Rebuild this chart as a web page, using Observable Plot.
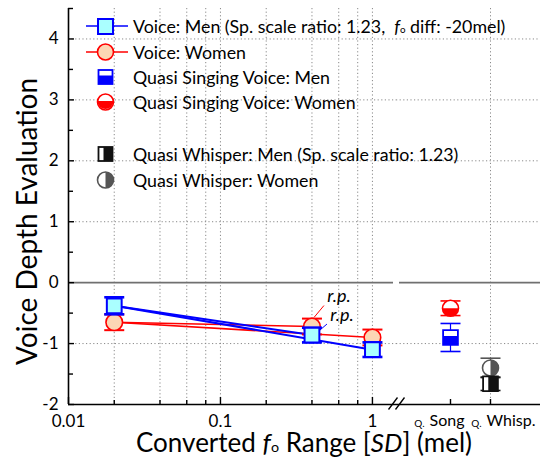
<!DOCTYPE html>
<html><head><meta charset="utf-8">
<script src="https://cdn.jsdelivr.net/npm/d3@7"></script>
<script src="https://cdn.jsdelivr.net/npm/@observablehq/plot@0.6"></script>
<style>
body{margin:0;background:#fff;font-family:Lato,"Open Sans",sans-serif;}
#wrap{position:relative;width:545px;height:465px;overflow:hidden;}
#wrap > svg{position:absolute;left:0;top:0;}
.leg{position:absolute;left:0;top:0;width:545px;height:200px;pointer-events:none;}
.row{position:absolute;left:86px;height:22px;display:flex;align-items:center;font-size:17.8px;color:#000;white-space:nowrap;}
.row svg{width:44px;height:22px;flex:none;margin-right:3px;}
.sub{font-size:0.55em;}
#xtitle{position:absolute;left:68px;width:472px;top:431px;text-align:center;font-size:26px;line-height:22px;}
</style></head><body>
<div id="wrap"></div>
<script>
// ---- data ----
const rangeSD = [0.02, 0.4, 1];            // converted f0 range [SD]
const rpFlags = [false, true, false];      // r.p. point
const menVoice = [-0.38, -0.86, -1.10];
const menVoiceErr = [0.14, 0.12, 0.12];
const womenVoice = [-0.65, -0.72, -0.90];
const womenVoiceErr = [0.13, 0.13, 0.13];
const qConditions = ["Song", "Whisp."];
const qMen = [-0.90, -1.66];
const qMenErr = [0.23, 0.11];
const qWomen = [-0.42, -1.40];
const qWomenErr = [0.12, 0.16];
const yTicks = [-2, -1, 0, 1, 2, 3, 4];
const yMinorTicks = [-1.5, -0.5, 0.5, 1.5, 2.5, 3.5, 4.5];
const xMajorTicks = [0.01, 0.1, 1];
const xMinorTicks = [0.02, 0.04, 0.06, 0.08, 0.2, 0.4, 0.6, 0.8];
const xGridTicks = [0.02, 0.04, 0.06, 0.08, 0.1, 0.2, 0.4, 0.6, 0.8, 1];
const legendItems = [
  {key: "menVoice", html: 'Voice: Men (Sp. scale ratio: 1.23,&nbsp; <i>f</i><span class="sub">o</span> diff: -20mel)'},
  {key: "womenVoice", html: 'Voice: Women'},
  {key: "qMenSong", html: 'Quasi Singing Voice: Men'},
  {key: "qWomenSong", html: 'Quasi Singing Voice: Women'},
  {key: "gap", html: ''},
  {key: "qMenWhisp", html: 'Quasi Whisper: Men (Sp. scale ratio: 1.23)'},
  {key: "qWomenWhisp", html: 'Quasi Whisper: Women'}
];

// ---- styles ----
const BLUE = "#0000ff", RED = "#ff0000", CYAN = "#aaffff", PEACH = "#fcd6b4";
const GRID = {stroke: "#8a8a8a", strokeDasharray: "1.2,2.4", strokeWidth: 1};
const R = s => Math.sqrt(s / Math.PI);
const sqSym = {draw(c, s) { const h = R(s); c.rect(-h, -h, 2 * h, 2 * h); }};
const sqBottom = {draw(c, s) { const h = R(s); c.rect(-h, -h + 0.8 * h, 2 * h, 1.2 * h); }};
const sqRight = {draw(c, s) { const h = R(s); c.rect(-h + 0.7 * h, -h, 1.3 * h, 2 * h); }};
const circBottom = {draw(c, s) { const h = R(s); c.moveTo(h, 0); c.arc(0, 0, h, 0, Math.PI); c.closePath(); }};
const circRight = {draw(c, s) { const h = R(s); c.moveTo(0, -h); c.arc(0, 0, h, -Math.PI / 2, Math.PI / 2); c.closePath(); }};
const capSym = {draw(c, s) { const h = R(s); c.moveTo(-h, 0); c.lineTo(h, 0); }};
const leader = (a, b, e, f) => ({draw(c) { c.moveTo(a, b); c.lineTo(e, f); }});
const slashSym = {draw(c) { c.moveTo(-8, 5); c.lineTo(1, -7); c.moveTo(-1, 5); c.lineTo(8, -7); }};

const frame = {width: 545, height: 430, marginTop: 8, marginBottom: 26, marginLeft: 68};
const yScale = {domain: [-2, 4.5]};
const baseStyle = {fontFamily: "Lato, sans-serif", fontSize: "16px", background: "transparent", overflow: "visible"};
const idx = d3.range(rangeSD.length);
const linkIdx = idx.slice(1);
const rpIdx = idx.filter(i => rpFlags[i]);

const plotA = Plot.plot({
  ...frame, marginRight: 149,
  x: {type: "log", domain: [0.01, 1.44]},
  y: yScale,
  style: baseStyle,
  marks: [
    Plot.ruleX(xGridTicks, GRID),
    Plot.ruleY(yTicks.filter(d => d !== 0 && d !== yScale.domain[0]), GRID),
    Plot.ruleY([0], {stroke: "#707070", strokeWidth: 1.6, insetRight: 3}),
    // y-axis title
    Plot.text(["Voice Depth Evaluation"], {frameAnchor: "left", textAnchor: "middle", rotate: -90, dx: -40, dy: 15, fontSize: 28}),
    // lines
    Plot.link(linkIdx, {x1: () => rangeSD[0], y1: () => womenVoice[0], x2: i => rangeSD[i], y2: i => womenVoice[i], stroke: RED, strokeWidth: 1.6}),
    Plot.link(linkIdx, {x1: () => rangeSD[0], y1: () => menVoice[0], x2: i => rangeSD[i], y2: i => menVoice[i], stroke: BLUE, strokeWidth: 2}),
    // women voice
    Plot.ruleX(idx, {x: i => rangeSD[i], y1: i => womenVoice[i] - womenVoiceErr[i], y2: i => womenVoice[i] + womenVoiceErr[i], stroke: RED, strokeWidth: 1.5}),
    Plot.dot(idx, {x: i => rangeSD[i], y: i => womenVoice[i] + womenVoiceErr[i], symbol: capSym, r: 10, fill: "none", stroke: RED, strokeWidth: 2}),
    Plot.dot(idx, {x: i => rangeSD[i], y: i => womenVoice[i] - womenVoiceErr[i], symbol: capSym, r: 10, fill: "none", stroke: RED, strokeWidth: 2}),
    Plot.dot(idx, {x: i => rangeSD[i], y: i => womenVoice[i], r: 8.3, fill: PEACH, stroke: RED, strokeWidth: 1.6}),
    // men voice
    Plot.ruleX(idx, {x: i => rangeSD[i], y1: i => menVoice[i] - menVoiceErr[i], y2: i => menVoice[i] + menVoiceErr[i], stroke: BLUE, strokeWidth: 1.5}),
    Plot.dot(idx, {x: i => rangeSD[i], y: i => menVoice[i] + menVoiceErr[i], symbol: capSym, r: 10, fill: "none", stroke: BLUE, strokeWidth: 2.6}),
    Plot.dot(idx, {x: i => rangeSD[i], y: i => menVoice[i] - menVoiceErr[i], symbol: capSym, r: 10, fill: "none", stroke: BLUE, strokeWidth: 2.6}),
    Plot.dot(idx, {x: i => rangeSD[i], y: i => menVoice[i], symbol: sqSym, r: 7.4, fill: CYAN, stroke: BLUE, strokeWidth: 2}),
    // r.p. annotations
    Plot.dot(rpIdx, {x: i => rangeSD[i], y: i => womenVoice[i], symbol: leader(2, -9, 12, -21), fill: "none", stroke: RED, strokeWidth: 1}),
    Plot.dot(rpIdx, {x: i => rangeSD[i], y: i => menVoice[i], symbol: leader(8, -5, 15, -11), fill: "none", stroke: BLUE, strokeWidth: 1}),
    Plot.text(rpIdx, {x: i => rangeSD[i], y: i => womenVoice[i], text: () => "r.p.", dx: 27, dy: -30, fontStyle: "italic", fontSize: 18}),
    Plot.text(rpIdx, {x: i => rangeSD[i], y: i => menVoice[i], text: () => "r.p.", dx: 30, dy: -20, fontStyle: "italic", fontSize: 18}),
    // axes
    Plot.ruleX([0.01], {stroke: "#000", strokeWidth: 1.6}),
    Plot.ruleY([yScale.domain[0]], {stroke: "#000", strokeWidth: 1.6}),
    Plot.axisY({ticks: yTicks, tickSize: -6, tickPadding: 16, tickFormat: d => String(d), fontSize: 17, label: null, strokeWidth: 1.4}),
    Plot.axisY({ticks: yMinorTicks, tickSize: -5, fill: "none", label: null, strokeWidth: 1.4}),
    Plot.axisX({ticks: xMajorTicks, tickSize: -7, tickPadding: 17, tickFormat: d => String(d), fontSize: 17, label: null, strokeWidth: 1.4}),
    Plot.axisX({ticks: xMinorTicks, tickSize: -4, fill: "none", label: null, strokeWidth: 1.4}),
    Plot.dot([0], {frameAnchor: "bottom-right", symbol: slashSym, fill: "none", stroke: "#000", strokeWidth: 1.3})
  ]
});

const qi = d3.range(qConditions.length);
const plotB = Plot.plot({
  ...frame, marginLeft: 396, marginRight: 5,
  x: {type: "point", domain: qConditions, range: [450, 490], padding: 0},
  y: {...yScale, axis: null},
  style: baseStyle,
  marks: [
    Plot.ruleX([qConditions[1]], GRID),
    Plot.ruleY(yTicks.filter(d => d !== 0 && d !== yScale.domain[0]), GRID),
    Plot.ruleY([0], {stroke: "#707070", strokeWidth: 1.6, insetLeft: 3}),
    Plot.ruleY([yScale.domain[0]], {stroke: "#000", strokeWidth: 1.6}),
    Plot.axisX({tickSize: -5, fill: "none", label: null, strokeWidth: 1.4}),
    // category labels
    Plot.text([qConditions[0]], {x: d => d, frameAnchor: "bottom", lineAnchor: "top", dy: 10, dx: -21, textAnchor: "start", fontSize: 16}),
    Plot.text([qConditions[0]], {x: d => d, text: () => "Q.", frameAnchor: "bottom", lineAnchor: "top", dy: 15, dx: -26, textAnchor: "end", fontSize: 10}),
    Plot.text([qConditions[1]], {x: d => d, frameAnchor: "bottom", lineAnchor: "top", dy: 10, dx: -4, textAnchor: "start", fontSize: 16}),
    Plot.text([qConditions[1]], {x: d => d, text: () => "Q.", frameAnchor: "bottom", lineAnchor: "top", dy: 15, dx: -9, textAnchor: "end", fontSize: 10}),
    // women (circles)
    Plot.ruleX(qi, {x: i => qConditions[i], y1: i => qWomen[i] - qWomenErr[i], y2: i => qWomen[i] + qWomenErr[i], stroke: i => i ? "#555" : RED, strokeWidth: 1.2}),
    Plot.dot(qi, {x: i => qConditions[i], y: i => qWomen[i] + qWomenErr[i], symbol: capSym, r: 10, fill: "none", stroke: i => i ? "#555" : RED, strokeWidth: 1.6}),
    Plot.dot(qi, {x: i => qConditions[i], y: i => qWomen[i] - qWomenErr[i], symbol: capSym, r: 10, fill: "none", stroke: i => i ? "#555" : RED, strokeWidth: 1.6}),
    Plot.dot(qi, {x: i => qConditions[i], y: i => qWomen[i], r: 8, fill: "#fff", stroke: i => i ? "#555" : RED, strokeWidth: 1.6}),
    Plot.dot([0], {x: () => qConditions[0], y: () => qWomen[0], symbol: circBottom, r: 8, fill: RED}),
    Plot.dot([1], {x: () => qConditions[1], y: () => qWomen[1], symbol: circRight, r: 8, fill: "#555"}),
    // men (squares)
    Plot.ruleX(qi, {x: i => qConditions[i], y1: i => qMen[i] - qMenErr[i], y2: i => qMen[i] + qMenErr[i], stroke: i => i ? "#111" : BLUE, strokeWidth: 1.2}),
    Plot.dot(qi, {x: i => qConditions[i], y: i => qMen[i] + qMenErr[i], symbol: capSym, r: 10, fill: "none", stroke: i => i ? "#111" : BLUE, strokeWidth: 1.6}),
    Plot.dot(qi, {x: i => qConditions[i], y: i => qMen[i] - qMenErr[i], symbol: capSym, r: 10, fill: "none", stroke: i => i ? "#111" : BLUE, strokeWidth: 1.6}),
    Plot.dot(qi, {x: i => qConditions[i], y: i => qMen[i], symbol: sqSym, r: 7.4, fill: "#fff", stroke: i => i ? "#111" : BLUE, strokeWidth: 1.8}),
    Plot.dot([0], {x: () => qConditions[0], y: () => qMen[0], symbol: sqBottom, r: 7.4, fill: BLUE}),
    Plot.dot([1], {x: () => qConditions[1], y: () => qMen[1], symbol: sqRight, r: 7.4, fill: "#111"})
  ]
});

const wrap = document.getElementById("wrap");
wrap.append(plotA, plotB);

// ---- legend (overlay inside the plot frame) ----
const icons = {
  menVoice: `<line x1="0" y1="11" x2="42" y2="11" stroke="${BLUE}" stroke-width="1.6"/><rect x="12" y="4" width="15" height="15" fill="${CYAN}" stroke="${BLUE}" stroke-width="2"/>`,
  womenVoice: `<line x1="0" y1="11" x2="42" y2="11" stroke="${RED}" stroke-width="1.6"/><circle cx="19.5" cy="11" r="8" fill="${PEACH}" stroke="${RED}" stroke-width="1.6"/>`,
  qMenSong: `<rect x="12.5" y="4" width="14" height="14" fill="#fff" stroke="${BLUE}" stroke-width="1.8"/><rect x="12.5" y="9.5" width="14" height="8.5" fill="${BLUE}"/>`,
  qWomenSong: `<circle cx="19.5" cy="11" r="8" fill="#fff" stroke="${RED}" stroke-width="1.6"/><path d="M11.5,10 A8,8 0 0,0 27.5,10 Z" fill="${RED}"/>`,
  gap: ``,
  qMenWhisp: `<rect x="12.5" y="4" width="14" height="14" fill="#fff" stroke="#111" stroke-width="1.8"/><rect x="17.5" y="4" width="9" height="14" fill="#111"/>`,
  qWomenWhisp: `<circle cx="19.5" cy="11" r="8" fill="#fff" stroke="#555" stroke-width="1.6"/><path d="M19.5,3 A8,8 0 0,1 19.5,19 Z" fill="#555"/>`
};
const rowY = [26, 52, 77, 102, 128, 154, 180];
const leg = document.createElement("div");
leg.className = "leg";
legendItems.forEach((it, k) => {
  if (it.key === "gap") return;
  const row = document.createElement("div");
  row.className = "row";
  row.style.top = (rowY[k] - 11) + "px";
  row.innerHTML = `<svg viewBox="0 0 44 22">${icons[it.key]}</svg><span>${it.html}</span>`;
  leg.append(row);
});
wrap.append(leg);

const xt = document.createElement("div");
xt.id = "xtitle";
xt.innerHTML = 'Converted <i>f</i><span class="sub">o</span> Range [<i>SD</i>] (mel)';
wrap.append(xt);
</script></body></html>
